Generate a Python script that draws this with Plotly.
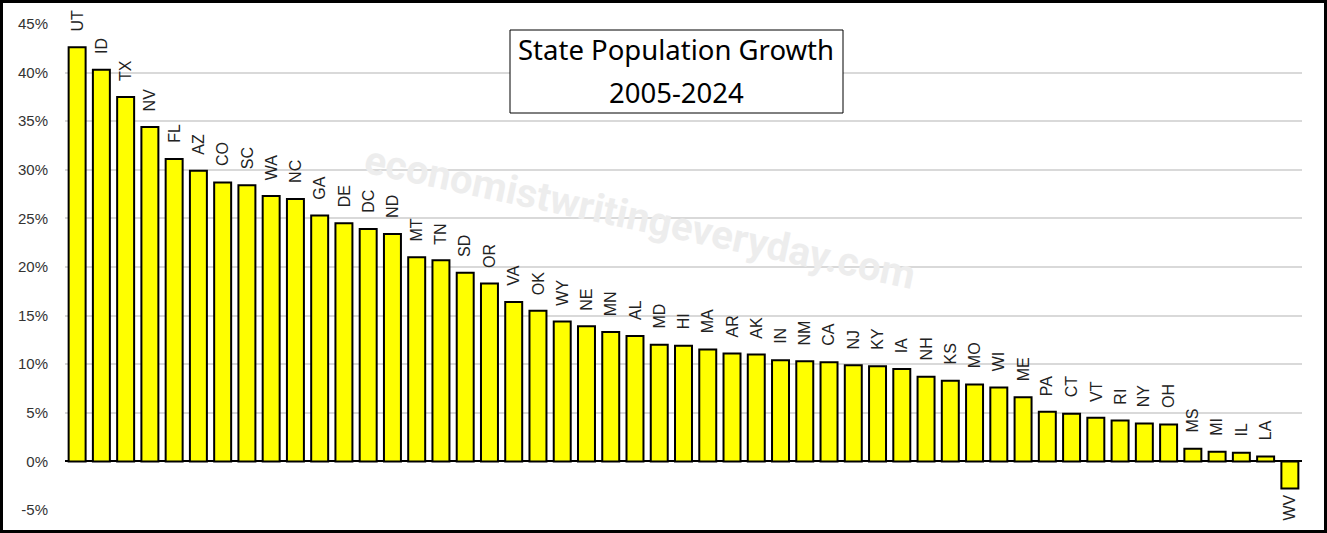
import plotly.graph_objects as go

states = ["UT", "ID", "TX", "NV", "FL", "AZ", "CO", "SC", "WA", "NC", "GA", "DE", "DC", "ND",
          "MT", "TN", "SD", "OR", "VA", "OK", "WY", "NE", "MN", "AL", "MD", "HI", "MA", "AR",
          "AK", "IN", "NM", "CA", "NJ", "KY", "IA", "NH", "KS", "MO", "WI", "ME", "PA", "CT",
          "VT", "RI", "NY", "OH", "MS", "MI", "IL", "LA", "WV"]
growth = [42.6, 40.3, 37.5, 34.4, 31.1, 29.9, 28.7, 28.4, 27.3, 27.0, 25.3, 24.5, 23.9, 23.4,
          21.0, 20.7, 19.4, 18.3, 16.4, 15.5, 14.4, 13.9, 13.3, 12.9, 12.0, 11.9, 11.5, 11.1,
          11.0, 10.4, 10.3, 10.2, 9.9, 9.8, 9.5, 8.7, 8.3, 7.9, 7.6, 6.6, 5.1, 4.9,
          4.5, 4.2, 3.9, 3.8, 1.3, 1.0, 0.9, 0.5, -2.8]
y_ticks = [-5, 0, 5, 10, 15, 20, 25, 30, 35, 40, 45]
y_tick_labels = [f"{v}%" for v in y_ticks]
title_lines = ["State Population Growth", "2005-2024"]
watermark = "economistwritingeveryday.com"

W, H = 1327, 533
ML, MR, MT, MB = 65, 25, 24, 23
PW, PH = W - ML - MR, H - MT - MB

fig = go.Figure()
fig.add_trace(go.Bar(
    x=states, y=growth,
    marker=dict(color="#ffff00", line=dict(color="black", width=2)),
    width=0.7, hoverinfo="x+y",
))

annotations = []
for s, v in zip(states, growth):
    annotations.append(dict(
        x=s, y=v, xref="x", yref="y", text=s, showarrow=False, textangle=-90,
        yanchor="bottom" if v >= 0 else "top", xanchor="center",
        yshift=14 if v >= 0 else -4,
        font=dict(family="Liberation Sans, Arial", size=16, color="#222"),
    ))

# watermark
annotations.append(dict(
    x=(640 - ML) / PW, y=(MT + PH - 218) / PH, xref="paper", yref="paper",
    xanchor="center", yanchor="middle",
    text=watermark, showarrow=False, textangle=12,
    font=dict(family="Roboto", size=40, color="#ededed", weight="bold"),
))

# title (two lines)
for line, ypix in zip(title_lines, [50, 92]):
    annotations.append(dict(
        x=(676 - ML) / PW, y=(MT + PH - ypix) / PH, xref="paper", yref="paper",
        xanchor="center", yanchor="middle",
        text=line, showarrow=False, align="center",
        font=dict(family="Noto Sans, Open Sans", size=27.5, color="black"),
    ))

shapes = [
    dict(type="rect", xref="paper", yref="paper",
         x0=(510 - ML) / PW, x1=(843 - ML) / PW,
         y0=(MT + PH - 113) / PH, y1=(MT + PH - 30) / PH,
         line=dict(color="black", width=1), fillcolor="white", layer="above"),
    dict(type="rect", xref="paper", yref="paper",
         x0=(1.5 - ML) / PW, x1=(W - 1.5 - ML) / PW,
         y0=-(MB - 1.5) / PH, y1=1 + (MT - 1.5) / PH,
         line=dict(color="black", width=3)),
]

fig.update_layout(
    width=W, height=H,
    margin=dict(l=ML, r=MR, t=MT, b=MB),
    paper_bgcolor="white", plot_bgcolor="white",
    showlegend=False, bargap=0.3,
    annotations=annotations, shapes=shapes,
    xaxis=dict(showticklabels=False, showgrid=False, ticks="", zeroline=False,
               range=[-0.5, len(states) - 0.5]),
    yaxis=dict(range=[-5, 45], tickvals=y_ticks, ticktext=y_tick_labels,
               showgrid=True, gridcolor="#d9d9d9", gridwidth=1.5,
               zeroline=True, zerolinecolor="black", zerolinewidth=2,
               ticks="", ticklabelstandoff=16,
               tickfont=dict(family="Liberation Sans, Arial", size=15, color="#333")),
)

fig.write_html("out.html", config={"displayModeBar": False},
               post_script="document.body.style.margin='0';document.body.style.overflow='hidden';")
